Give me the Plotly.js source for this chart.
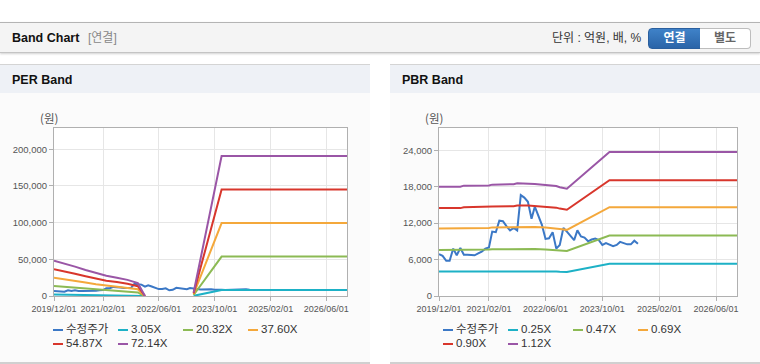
<!DOCTYPE html>
<html><head><meta charset="utf-8">
<script src="https://cdn.plot.ly/plotly-3.0.1.min.js"></script>
<style>
html,body{margin:0;padding:0}
body{width:760px;height:364px;overflow:hidden;background:#fff;position:relative;font-family:"Liberation Sans","Noto Sans CJK KR",sans-serif;color:#222}
.abs{position:absolute}
#hdr{left:0;top:22px;width:760px;height:29px;background:#f4f4f4;border-top:1px solid #b4b4b4;border-bottom:1px solid #c4c4c4;box-shadow:0 1px 2px rgba(0,0,0,0.18)}
#hdrTitle{left:12px;top:31px;font-size:12.5px;font-weight:bold;color:#111;line-height:14px}
#hdrSub{left:88px;top:31px;font-size:12px;color:#888;line-height:14px}
#unit{left:552px;top:31px;font-size:12px;color:#333;line-height:14px}
#btn1{left:648px;top:28px;width:51px;height:19px;background:linear-gradient(#3f82c8,#2a64a8);border:1px solid #2a5f9e;border-radius:4px 0 0 4px;color:#fff;font-weight:bold;font-size:12px;text-align:center;line-height:19px;box-sizing:content-box}
#btn2{left:700px;top:28px;width:50px;height:19px;background:#fff;border:1px solid #bdbdbd;border-left:none;border-radius:0 4px 4px 0;color:#666;font-weight:bold;font-size:12px;text-align:center;line-height:19px}
.panel{top:64px;width:370px;height:297px;background:#fbfbfb;border-top:1px solid #d4d4d4;border-bottom:2px solid #d0d0d0}
.phead{left:0;top:0;width:370px;height:28px;background:#eef1f6}
.ptitle{left:12px;top:8px;font-size:12.5px;font-weight:bold;color:#111;line-height:14px}
.plot{top:94px;width:370px;height:268px}
.leg{font-size:11.5px;color:#333;line-height:13px;white-space:nowrap}
.leg .sw{position:absolute;top:6px;width:10px;height:2px}
.leg .tx{position:absolute;left:13px;top:0}
</style>
</head><body>
<div id="hdr" class="abs"></div>
<div id="hdrTitle" class="abs">Band Chart</div>
<div id="hdrSub" class="abs">[연결]</div>
<div id="unit" class="abs">단위 : 억원, 배, %</div>
<div id="btn1" class="abs">연결</div>
<div id="btn2" class="abs">별도</div>

<div class="abs panel" style="left:0"><div class="abs phead"></div><div class="abs ptitle">PER Band</div></div>
<div class="abs panel" style="left:390px"><div class="abs phead"></div><div class="abs ptitle">PBR Band</div></div>

<div id="per" class="abs plot" style="left:0"></div>
<div id="pbr" class="abs plot" style="left:390px"></div>
<div id="perLeg"></div>
<div id="pbrLeg"></div>

<script>
// ---------- data ----------
const tickDates = ['2019-12-01','2021-02-01','2022-06-01','2023-10-01','2025-02-01','2026-06-01'];
const tickLabels = ['2019/12/01','2021/02/01','2022/06/01','2023/10/01','2025/02/01','2026/06/01'];

const priceName = '수정주가';
const priceStart = [2019, 12]; // monthly, first month
const price = [6900,6600,5800,5800,7800,6700,7900,6800,6800,6700,6700,7000,7300,
  7800,8000,10600,10500,12400,12300,11500,10800,11200,10800,16600,16200,
  15500,12700,14700,13000,11700,9400,9500,10500,7800,8400,11200,10600,
  9900,9200,10800,9800,9600,9000,9300,9450,9200,8400,8700,8500,
  8200,8400,8900,8700,8500,8500,9100,8600];

const perNames = ['3.05X','20.32X','37.60X','54.87X','72.14X'];
const perDates = ['2019-12-01','2020-03-01','2020-06-01','2020-09-01','2020-12-01','2021-03-01','2021-06-01','2021-09-01','2021-12-01','2022-01-01','2022-02-01','2022-03-01','2023-04-01','2023-12-01','2026-12-01'];
const per305 = [2030,1880,1690,1500,1310,1160,1060,930,740,340,0,null,200,8070,8070];
const per2032 = [13520,12540,11270,10000,8730,7750,7040,6200,4930,2250,0,null,1320,53750,53750];
const per3760 = [25020,23190,20850,18500,16160,14330,13030,11470,9120,4170,0,null,2440,99450,99450];
const per5487 = [36510,33850,30420,27000,23580,20920,19020,16730,13310,6085,0,null,3570,145130,145130];
const per7214 = [48000,44500,40000,35500,31000,27500,25000,22000,17500,8000,0,null,4690,190800,190800];

const pbrNames = ['0.25X','0.47X','0.69X','0.90X','1.12X'];
const pbrDates = ['2019-12-01','2020-06-01','2020-07-01','2021-02-01','2021-03-01','2021-09-01','2021-10-01','2022-01-01','2022-03-01','2022-06-01','2022-09-01','2022-10-01','2022-12-01','2023-12-01','2026-12-01'];
const pbr025 = [4018,4018,4053,4062,4091,4107,4141,4141,4118,4078,4040,3996,3944,5295,5295];
const pbr047 = [7554,7554,7621,7637,7692,7721,7784,7784,7742,7667,7595,7512,7415,9954,9954];
const pbr069 = [11089,11089,11188,11212,11293,11336,11428,11428,11366,11256,11151,11028,10886,14613,14613];
const pbr090 = [14464,14464,14593,14625,14729,14786,14906,14906,14826,14681,14545,14384,14199,19061,19061];
const pbr112 = [18000,18000,18160,18200,18330,18400,18550,18550,18450,18270,18100,17900,17670,23720,23720];

const perTicks = [0,50000,100000,150000,200000];
const pbrTicks = [0,6000,12000,18000,24000];

// ---------- styles ----------
const colors = ['#3b78c6','#1db1c6','#8cba54','#f4a83b','#d8362c','#9a56a6'];

const priceDates = price.map((_, i) => {
  const t = (priceStart[0]) * 12 + (priceStart[1] - 1) + i;
  const y = Math.floor(t / 12), m = t % 12 + 1;
  return y + '-' + String(m).padStart(2, '0') + '-01';
});

function traces(bandDates, bands, names) {
  const out = [{x: priceDates, y: price, name: priceName, type: 'scatter', mode: 'lines',
    line: {color: colors[0], width: 2}}];
  bands.forEach((b, i) => out.push({x: bandDates, y: b, name: names[i], type: 'scatter', mode: 'lines',
    line: {color: colors[i + 1], width: 2}, connectgaps: false}));
  return out;
}

function layout(l, yr, yt) {
  const xf = {family: '"Liberation Sans", Arial, sans-serif', size: 9, color: '#555'};
  const yf = {family: '"Liberation Sans", Arial, sans-serif', size: 9.5, color: '#555'};
  return {
    width: 370, height: 268,
    margin: {l: l, r: 23, t: 34, b: 66},
    paper_bgcolor: 'rgba(0,0,0,0)', plot_bgcolor: '#ffffff',
    showlegend: false,
    xaxis: {type: 'date', range: ['2019-12-01', '2026-11-28'], tickmode: 'array',
      tickvals: tickDates, ticktext: tickLabels, tickfont: xf, tickangle: 0,
      showgrid: true, gridcolor: '#e6e6e6', gridwidth: 1,
      showline: true, linecolor: '#b0b0b0', linewidth: 1, mirror: true,
      ticks: 'outside', ticklen: 4, tickcolor: '#b0b0b0', zeroline: false, fixedrange: true},
    yaxis: {range: yr, tickmode: 'array', tickvals: yt, tickformat: ',d', tickfont: yf,
      showgrid: true, gridcolor: '#e6e6e6', gridwidth: 1,
      showline: true, linecolor: '#b0b0b0', linewidth: 1, mirror: true,
      ticks: 'outside', ticklen: 4, tickcolor: '#b0b0b0', zeroline: false, fixedrange: true},
    annotations: [{text: '(원)', xref: 'paper', yref: 'paper', x: 0, y: 1, xshift: -5, yshift: 10,
      xanchor: 'center', yanchor: 'middle', showarrow: false,
      font: {family: '"Noto Sans CJK KR", sans-serif', size: 11.5, color: '#555'}}]
  };
}

const cfg = {displayModeBar: false, staticPlot: true};
Plotly.newPlot('per', traces(perDates, [per305, per2032, per3760, per5487, per7214], perNames),
  layout(54, [0, 229000], perTicks), cfg);
Plotly.newPlot('pbr', traces(pbrDates, [pbr025, pbr047, pbr069, pbr090, pbr112], pbrNames),
  layout(49, [0, 27650], pbrTicks), cfg);

// ---------- legends ----------
function legend(id, left, names) {
  const all = [priceName].concat(names);
  const host = document.getElementById(id);
  all.forEach((n, i) => {
    const col = i % 4, row = Math.floor(i / 4);
    const d = document.createElement('div');
    d.className = 'abs leg';
    d.style.left = (left + col * 65) + 'px';
    d.style.top = (323 + row * 14) + 'px';
    d.innerHTML = '<span class="sw" style="background:' + colors[i] + '"></span><span class="tx">' + n + '</span>';
    host.appendChild(d);
  });
}
legend('perLeg', 53, perNames);
legend('pbrLeg', 443, pbrNames);
</script>
</body></html>
